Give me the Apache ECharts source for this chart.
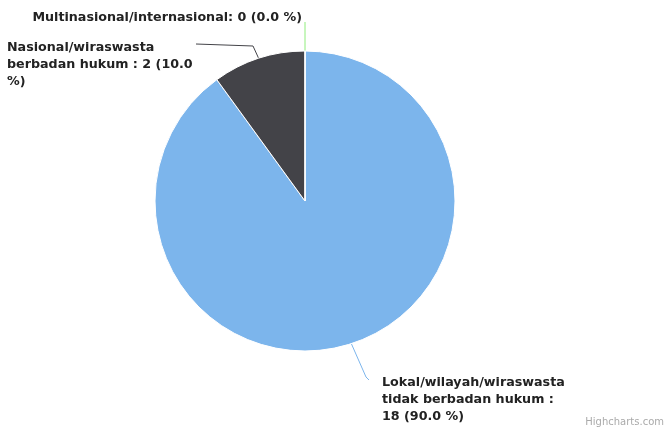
<!DOCTYPE html>
<html>
<head>
<meta charset="utf-8">
<script src="https://cdn.jsdelivr.net/npm/echarts@6/dist/echarts.min.js"></script>
<style>html,body{margin:0;padding:0;background:#fff;}#c{width:667px;height:433px;}</style>
</head>
<body>
<div id="c"></div>
<script>
const categories = [
  'Lokal/wilayah/wiraswasta tidak berbadan hukum',
  'Nasional/wiraswasta berbadan hukum',
  'Multinasional/internasional'
];
const values = [18, 2, 0];
const labelTexts = [
  'Lokal/wilayah/wiraswasta\ntidak berbadan hukum :\n18 (90.0 %)',
  'Nasional/wiraswasta\nberbadan hukum : 2 (10.0\n%)',
  'Multinasional/internasional: 0 (0.0 %)'
];
const colors = ['#7cb5ec', '#434348', '#90ed7d'];

const chart = echarts.init(document.getElementById('c'), null, {renderer: 'canvas'});
chart.setOption({
  animation: false,
  color: colors,
  graphic: [{
    type: 'text', right: 3, bottom: 6,
    style: {text: 'Highcharts.com', fill: '#aaa', font: '10px "DejaVu Sans", sans-serif'}
  }],
  series: [{
    type: 'pie',
    center: [305, 201],
    radius: 150,
    startAngle: 90,
    clockwise: true,
    percentPrecision: 1,
    avoidLabelOverlap: false,
    itemStyle: {borderColor: '#fff', borderWidth: 1},
    label: {
      show: true,
      position: 'outside',
      color: '#222',
      fontSize: 12.7,
      fontWeight: 'bold',
      fontFamily: '"DejaVu Sans", sans-serif',
      lineHeight: 17,
      formatter: p => labelTexts[p.dataIndex]
    },
    labelLine: {show: true, length: 15, length2: 15, lineStyle: {width: 1}},
    labelLayout: function (p) {
      const s = p.labelLinePoints ? p.labelLinePoints[0] : [305, 51];
      if (p.dataIndex === 0) {
        return {x: 382, y: 374, align: 'left', verticalAlign: 'top',
          labelLinePoints: [s, [366, 377], [369, 380]]};
      } else if (p.dataIndex === 1) {
        return {x: 7, y: 39, align: 'left', verticalAlign: 'top',
          labelLinePoints: [s, [253, 46], [196, 44]]};
      } else {
        return {x: 302, y: 9, align: 'right', verticalAlign: 'top',
          labelLinePoints: [[305, 51], [305, 35], [305, 22]]};
      }
    },
    data: categories.map((c, i) => ({name: c, value: values[i]}))
  }]
});
</script>
</body>
</html>
